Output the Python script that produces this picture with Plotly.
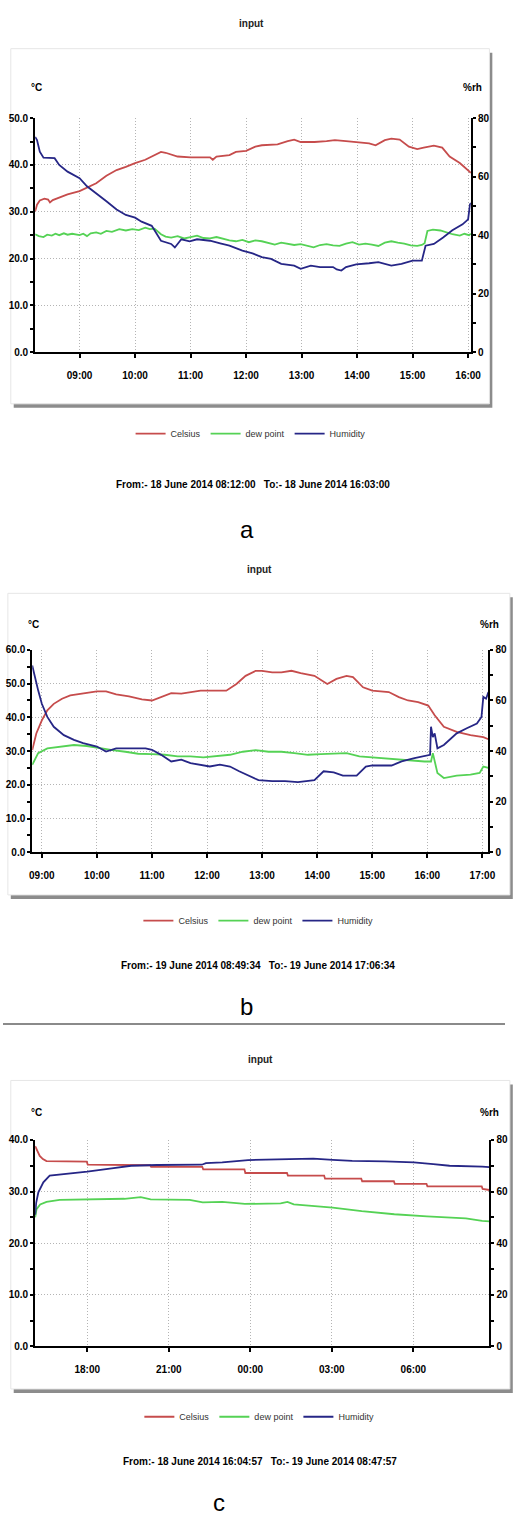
import plotly.graph_objects as go

W, H = 515, 1518

# ---------------- Panel a : 18 June 2014 08:12 - 16:03 ----------------
A_CEL_T = ["08:12", "08:14", "08:17", "08:22", "08:26", "08:28", "08:31", "08:38", "08:47", "09:00",
           "09:08", "09:18", "09:29", "09:40", "09:50", "10:00", "10:11", "10:21", "10:28", "10:33",
           "10:39", "10:46", "11:00", "11:14", "11:21", "11:24", "11:28", "11:42", "11:49", "12:00",
           "12:10", "12:17", "12:34", "12:45", "12:52", "12:59", "13:14", "13:27", "13:36", "13:48",
           "14:02", "14:13", "14:20", "14:23", "14:30", "14:37", "14:46", "14:56", "15:05", "15:12",
           "15:23", "15:32", "15:40", "15:51", "16:01", "16:03"]
A_CEL_V = [30.1, 31.5, 32.4, 32.8, 32.6, 32.0, 32.5, 33.1, 33.7, 34.4,
           35.1, 36.1, 37.7, 38.9, 39.6, 40.4, 41.1, 42.1, 42.8, 42.6,
           42.3, 41.8, 41.6, 41.6, 41.6, 41.1, 41.8, 42.1, 42.8, 43.0,
           43.9, 44.2, 44.4, 45.1, 45.4, 44.9, 44.9, 45.1, 45.3, 45.1,
           44.9, 44.6, 44.2, 44.5, 45.3, 45.6, 45.4, 43.9, 43.4, 43.7,
           44.1, 43.7, 41.8, 40.4, 38.6, 38.3]

A_DEW_T = ["08:12", "08:16", "08:21", "08:25", "08:30", "08:34", "08:38", "08:43", "08:47", "08:52",
           "09:00", "09:04", "09:08", "09:12", "09:18", "09:23", "09:29", "09:35", "09:43", "09:50",
           "09:57", "10:04", "10:11", "10:16", "10:21", "10:25", "10:28", "10:33", "10:39", "10:46",
           "10:53", "11:00", "11:07", "11:14", "11:21", "11:28", "11:35", "11:42", "11:49", "11:56",
           "12:03", "12:10", "12:17", "12:24", "12:31", "12:38", "12:45", "12:52", "12:59", "13:06",
           "13:13", "13:20", "13:27", "13:34", "13:41", "13:48", "13:55", "14:02", "14:09", "14:16",
           "14:23", "14:30", "14:37", "14:44", "14:51", "14:58", "15:05", "15:10", "15:13", "15:16",
           "15:22", "15:30", "15:36", "15:43", "15:51", "15:56", "16:01", "16:03"]
A_DEW_V = [25.2, 24.8, 24.6, 25.1, 24.9, 25.3, 25.0, 25.4, 25.1, 25.3,
           25.0, 25.3, 24.8, 25.4, 25.6, 25.3, 25.9, 25.7, 26.3, 26.0,
           26.3, 26.1, 26.6, 26.3, 26.4, 25.8, 25.2, 24.7, 24.5, 24.8,
           24.3, 24.6, 24.9, 24.4, 24.3, 24.6, 24.2, 23.9, 23.7, 24.0,
           23.5, 23.9, 23.7, 23.3, 23.0, 23.4, 23.2, 22.9, 23.1, 22.8,
           22.4, 22.9, 23.1, 22.8, 22.7, 23.2, 23.5, 23.0, 23.2, 23.0,
           22.7, 23.4, 23.7, 23.4, 23.2, 22.8, 22.7, 22.9, 23.3, 25.9,
           26.2, 26.0, 25.6, 25.2, 24.9, 25.3, 25.0, 25.3]

A_HUM_T = ["08:12", "08:14", "08:17", "08:21", "08:33", "08:38", "08:47", "09:00", "09:08", "09:18",
           "09:29", "09:40", "09:50", "10:00", "10:07", "10:18", "10:28", "10:39", "10:43", "10:50",
           "10:59", "11:07", "11:21", "11:32", "11:42", "11:56", "12:07", "12:17", "12:27", "12:38",
           "12:52", "12:59", "13:10", "13:20", "13:34", "13:38", "13:43", "13:48", "13:59", "14:13",
           "14:23", "14:37", "14:48", "15:00", "15:10", "15:14", "15:23", "15:33", "15:43", "15:54",
           "16:00", "16:02", "16:03"]
A_HUM_V = [73.6, 72.5, 68.5, 66.5, 66.3, 64.0, 61.7, 59.5, 56.7, 54.4,
           51.6, 48.8, 46.9, 46.0, 44.6, 43.2, 38.1, 37.0, 35.8, 38.6,
           37.9, 38.6, 38.1, 37.2, 36.4, 34.7, 33.8, 32.5, 31.9, 30.2,
           29.6, 28.5, 29.6, 29.1, 29.1, 28.3, 27.9, 29.1, 30.0, 30.4,
           30.8, 29.6, 30.2, 31.3, 31.3, 36.4, 37.0, 39.2, 41.7, 43.7,
           45.4, 50.5, 51.0]

# ---------------- Panel b : 19 June 2014 08:49:34 - 17:06:34 ----------------
B_CEL_T = ["08:49:34", "08:54", "09:00", "09:06", "09:13", "09:22", "09:31", "09:42", "09:52", "10:00",
           "10:10", "10:21", "10:35", "10:49", "11:00", "11:10", "11:21", "11:32", "11:42", "11:53",
           "12:03", "12:21", "12:32", "12:42", "12:53", "13:00", "13:11", "13:21", "13:32", "13:42",
           "13:57", "14:11", "14:21", "14:32", "14:39", "14:50", "15:00", "15:18", "15:29", "15:39",
           "15:50", "16:01", "16:08", "16:18", "16:32", "16:47", "17:01", "17:06:34"]
B_CEL_V = [30.3, 35.2, 39.1, 42.1, 44.0, 45.5, 46.5, 47.0, 47.3, 47.7,
           47.7, 46.8, 46.2, 45.3, 45.0, 46.0, 47.2, 47.0, 47.5, 47.9,
           47.9, 47.9, 49.9, 52.3, 53.8, 53.8, 53.3, 53.3, 53.8, 53.1,
           52.3, 49.9, 51.4, 52.3, 51.9, 48.9, 47.9, 47.5, 46.0, 45.0,
           44.5, 43.5, 40.6, 37.2, 35.7, 34.7, 34.1, 33.5]

B_DEW_T = ["08:49:34", "08:56", "09:06", "09:20", "09:35", "09:49", "10:03", "10:17", "10:31", "10:45",
           "11:00", "11:14", "11:28", "11:42", "11:56", "12:10", "12:25", "12:39", "12:53", "13:07",
           "13:21", "13:35", "13:50", "14:04", "14:18", "14:32", "14:46", "15:00", "15:21", "15:39",
           "15:57", "16:04", "16:06", "16:11", "16:18", "16:32", "16:47", "16:57", "17:01", "17:06:34"]
B_DEW_V = [25.9, 29.4, 30.8, 31.3, 31.8, 31.5, 30.8, 30.3, 29.8, 29.2,
           29.1, 28.9, 28.4, 28.4, 28.1, 28.4, 28.9, 29.8, 30.3, 29.8,
           29.8, 29.4, 28.9, 29.1, 29.2, 29.4, 28.4, 28.1, 27.6, 27.2,
           26.9, 26.9, 29.4, 23.5, 22.0, 22.7, 23.0, 23.5, 25.4, 25.0]

B_HUM_T = ["08:49:34", "08:50", "08:56", "09:00", "09:06", "09:13", "09:24", "09:35", "09:45", "10:00",
           "10:10", "10:21", "10:35", "10:53", "11:00", "11:10", "11:21", "11:32", "11:42", "11:53",
           "12:03", "12:14", "12:25", "12:35", "12:46", "12:56", "13:11", "13:25", "13:39", "13:57",
           "14:07", "14:18", "14:28", "14:43", "14:53", "15:00", "15:21", "15:32", "15:46", "16:01",
           "16:03", "16:04", "16:06", "16:08", "16:11", "16:18", "16:32", "16:43", "16:54", "16:59",
           "17:01", "17:04", "17:06:34"]
B_HUM_V = [73.8, 73.1, 64.0, 58.7, 53.5, 49.6, 46.3, 44.4, 43.1, 41.8,
           39.8, 41.1, 41.1, 41.1, 40.5, 38.5, 35.9, 36.6, 35.2, 34.6,
           33.9, 34.6, 33.9, 32.0, 30.0, 28.5, 28.1, 28.1, 27.7, 28.5,
           32.0, 31.6, 30.3, 30.3, 33.9, 34.3, 34.3, 35.9, 37.2, 38.5,
           38.5, 49.6, 45.5, 47.0, 41.1, 42.4, 47.0, 49.0, 50.9, 53.5,
           61.4, 60.7, 63.3]

# ---------------- Panel c : 18 June 2014 16:04:57 - 19 June 2014 08:47:57 ----------------
C_CEL_T = ["16:04:57", "16:10", "16:15", "16:22", "16:30", "17:59", "18:01", "20:19", "20:21", "22:14",
           "22:16", "23:47", "23:49", "01:21", "01:23", "02:43", "02:45", "04:05", "04:07", "05:17",
           "05:19", "06:29", "06:31", "08:31", "08:33", "08:47:57"]
C_CEL_V = [38.8, 37.8, 36.9, 36.3, 35.9, 35.8, 35.2, 35.1, 34.8, 34.8,
           34.3, 34.3, 33.6, 33.6, 33.1, 33.1, 32.5, 32.5, 32.0, 32.0,
           31.5, 31.5, 31.0, 31.0, 30.5, 30.3]

C_DEW_T = ["16:04:57", "16:08", "16:16", "16:30", "16:59", "18:00", "18:47", "19:22", "19:58", "20:20",
           "21:46", "22:15", "22:58", "23:48", "01:07", "01:22", "01:36", "03:02", "04:06", "05:18",
           "06:30", "07:20", "07:56", "08:32", "08:47:57"]
C_DEW_V = [25.0, 26.6, 27.5, 28.0, 28.4, 28.5, 28.5, 28.6, 28.9, 28.5,
           28.4, 27.9, 28.0, 27.6, 27.7, 28.0, 27.5, 26.9, 26.2, 25.6,
           25.2, 25.0, 24.8, 24.3, 24.2]

C_HUM_T = ["16:04:57", "16:07", "16:12", "16:23", "16:37", "17:13", "18:00", "18:54", "19:37", "20:34",
           "22:13", "22:22", "22:58", "23:55", "01:22", "01:57", "02:19", "03:02", "03:45", "04:57",
           "06:01", "06:44", "07:20", "08:32", "08:47:57"]
C_HUM_V = [51.0, 55.5, 59.7, 63.6, 66.2, 66.8, 67.7, 69.0, 70.0, 70.3,
           70.4, 71.0, 71.3, 72.2, 72.6, 72.9, 72.8, 72.3, 71.9, 71.7,
           71.3, 70.6, 70.0, 69.7, 69.5]

SERIES_NAMES = ["Celsius", "dew point", "Humidity"]
COLORS = ["#c64c4c", "#55d255", "#262686"]


def stamp(times, day=None, overnight=False):
    out = []
    for t in times:
        if len(t) == 5:
            t = t + ":00"
        if overnight:
            d = "18" if int(t[:2]) >= 12 else "19"
        else:
            d = day
        out.append(f"2014-06-{d} {t}")
    return out


FONT = "Liberation Sans, Arial, sans-serif"


def px_x(p):
    return p / W


def px_y(p):
    return 1 - p / H


panels = [
    dict(
        series=[(stamp(A_CEL_T, "18"), A_CEL_V), (stamp(A_DEW_T, "18"), A_DEW_V), (stamp(A_HUM_T, "18"), A_HUM_V)],
        xr=["2014-06-18 08:12:00", "2014-06-18 16:03:00"], tick0="2014-06-18 09:00:00", dtick=3600000,
        ymax=50, xdom=(33, 480), ydom=(113, 349),
        title_xy=(255, 18), unit_y=82, unit_l=34, unit_r=482,
        legend_xy=(254, 431), from_xy=(256, 482),
        from_text="From:-\u00a018 June 2014 08:12:00\u00a0\u00a0\u00a0To:-\u00a018 June 2014 16:03:00",
        letter="a", letter_xy=(250, 528),
        box=(8, 43, 499, 401),
    ),
    dict(
        series=[(stamp(B_CEL_T, "19"), B_CEL_V), (stamp(B_DEW_T, "19"), B_DEW_V), (stamp(B_HUM_T, "19"), B_HUM_V)],
        xr=["2014-06-19 08:49:34", "2014-06-19 17:06:34"], tick0="2014-06-19 09:00:00", dtick=3600000,
        ymax=60, xdom=(30, 498), ydom=(649, 853),
        title_xy=(263, 568), unit_y=623, unit_l=31, unit_r=499,
        legend_xy=(262, 922), from_xy=(262, 967),
        from_text="From:-\u00a019 June 2014 08:49:34\u00a0\u00a0\u00a0To:-\u00a019 June 2014 17:06:34",
        letter="b", letter_xy=(250, 1008),
        box=(5, 592, 520, 896),
    ),
    dict(
        series=[(stamp(C_CEL_T, overnight=True), C_CEL_V), (stamp(C_DEW_T, overnight=True), C_DEW_V),
                (stamp(C_HUM_T, overnight=True), C_HUM_V)],
        xr=["2014-06-18 16:04:57", "2014-06-19 08:47:57"], tick0="2014-06-18 18:00:00", dtick=3 * 3600000,
        ymax=40, xdom=(33, 499), ydom=(1143, 1351),
        title_xy=(264, 1062), unit_y=1115, unit_l=34, unit_r=499,
        legend_xy=(263, 1422), from_xy=(264, 1467),
        from_text="From:-\u00a018 June 2014 16:04:57\u00a0\u00a0\u00a0To:-\u00a019 June 2014 08:47:57",
        letter="c", letter_xy=(222, 1508),
        box=(8, 1083, 520, 1394),
    ),
]

fig = go.Figure()
layout = dict(
    width=W, height=H, margin=dict(l=0, r=0, t=0, b=0),
    paper_bgcolor="white", plot_bgcolor="rgba(0,0,0,0)",
    showlegend=True, annotations=[], shapes=[],
)

tickfont = dict(family=FONT, size=10, color="black", weight="bold")
GRID = "#b4b4b4"
GRIDDASH = "1px,2px"

for i, p in enumerate(panels):
    n = i + 1
    xa = "x" if n == 1 else f"x{n}"
    yl_idx = 2 * n - 1
    yr_idx = 2 * n
    yl = "y" if yl_idx == 1 else f"y{yl_idx}"
    yr = f"y{yr_idx}"
    leg = "legend" if n == 1 else f"legend{n}"

    for k, (t, v) in enumerate(p["series"]):
        fig.add_trace(go.Scatter(
            x=t, y=v, mode="lines", name=SERIES_NAMES[k],
            line=dict(color=COLORS[k], width=1.8),
            xaxis=xa, yaxis=(yr if k == 2 else yl), legend=leg,
        ))

    xdom = [px_x(p["xdom"][0]), px_x(p["xdom"][1])]
    ydom = [px_y(p["ydom"][1]), px_y(p["ydom"][0])]

    layout["xaxis" if n == 1 else f"xaxis{n}"] = dict(
        domain=xdom, anchor=yl, type="date", range=p["xr"],
        tick0=p["tick0"], dtick=p["dtick"], tickformat="%H:%M",
        showgrid=True, gridcolor=GRID, griddash=GRIDDASH, gridwidth=1,
        showline=True, linecolor="black", linewidth=2,
        ticks="outside", ticklen=4, tickwidth=1.5, tickcolor="black",
        tickfont=tickfont, zeroline=False, ticklabelstandoff=9,
    )
    layout["yaxis" if yl_idx == 1 else f"yaxis{yl_idx}"] = dict(
        domain=ydom, anchor=xa, range=[0, p["ymax"]], dtick=10, tickformat=".1f",
        showgrid=True, gridcolor=GRID, griddash=GRIDDASH, gridwidth=1,
        showline=True, linecolor="black", linewidth=2,
        ticks="outside", ticklen=3, tickwidth=1.5, tickcolor="black",
        minor=dict(ticks="outside", dtick=5, ticklen=3, tickcolor="black", showgrid=False),
        tickfont=tickfont, zeroline=False, ticklabelstandoff=0,
    )
    layout[f"yaxis{yr_idx}"] = dict(
        domain=ydom, anchor=xa, overlaying=yl, side="right", range=[0, 80], dtick=20,
        showgrid=False, showline=True, linecolor="black", linewidth=2,
        ticks="outside", ticklen=3, tickwidth=1.5, tickcolor="black",
        minor=dict(ticks="outside", dtick=10, ticklen=3, tickcolor="black"),
        tickfont=tickfont, zeroline=False, ticklabelstandoff=0,
    )
    layout[leg] = dict(
        orientation="h", x=px_x(p["legend_xy"][0]), y=px_y(p["legend_xy"][1]),
        xanchor="center", yanchor="middle", bgcolor="rgba(0,0,0,0)",
        font=dict(family=FONT, size=9, color="#333"), itemwidth=30, tracegroupgap=0,
    )

    # chart box with shadow
    bx0, by0, bx1, by1 = p["box"]
    layout["shapes"].append(dict(
        type="rect", xref="paper", yref="paper", layer="below",
        x0=px_x(bx0 + 3), x1=px_x(bx1 + 3), y0=px_y(by1 + 4), y1=px_y(by0 + 4),
        fillcolor="#8c8c8c", line=dict(width=0),
    ))
    layout["shapes"].append(dict(
        type="rect", xref="paper", yref="paper", layer="below",
        x0=px_x(bx0), x1=px_x(bx1), y0=px_y(by1), y1=px_y(by0),
        fillcolor="white", line=dict(color="#e6e6e6", width=1),
    ))

    ann = layout["annotations"]
    ann.append(dict(text="input", x=px_x(p["title_xy"][0]), y=px_y(p["title_xy"][1]),
                    xref="paper", yref="paper", showarrow=False, xanchor="center", yanchor="middle",
                    font=dict(family=FONT, size=10, color="#222", weight="bold")))
    ann.append(dict(text="°C", x=px_x(p["unit_l"]), y=px_y(p["unit_y"]),
                    xref="paper", yref="paper", showarrow=False, xanchor="center", yanchor="middle",
                    font=dict(family=FONT, size=10, color="black", weight="bold")))
    ann.append(dict(text="%rh", x=px_x(p["unit_r"]), y=px_y(p["unit_y"]),
                    xref="paper", yref="paper", showarrow=False, xanchor="center", yanchor="middle",
                    font=dict(family=FONT, size=10, color="black", weight="bold")))
    ann.append(dict(text=p["from_text"], x=px_x(p["from_xy"][0]), y=px_y(p["from_xy"][1]),
                    xref="paper", yref="paper", showarrow=False, xanchor="center", yanchor="middle",
                    font=dict(family=FONT, size=10, color="black", weight="bold")))
    ann.append(dict(text=p["letter"], x=px_x(p["letter_xy"][0]), y=px_y(p["letter_xy"][1]),
                    xref="paper", yref="paper", showarrow=False, xanchor="center", yanchor="middle",
                    font=dict(family=FONT, size=24, color="black")))

# separator line between b and c
layout["shapes"].append(dict(
    type="line", xref="paper", yref="paper", layer="above",
    x0=0, x1=1, y0=px_y(1026), y1=px_y(1026), line=dict(color="#8a8a8a", width=2),
))

fig.update_layout(**layout)
fig.write_html("out.html")
